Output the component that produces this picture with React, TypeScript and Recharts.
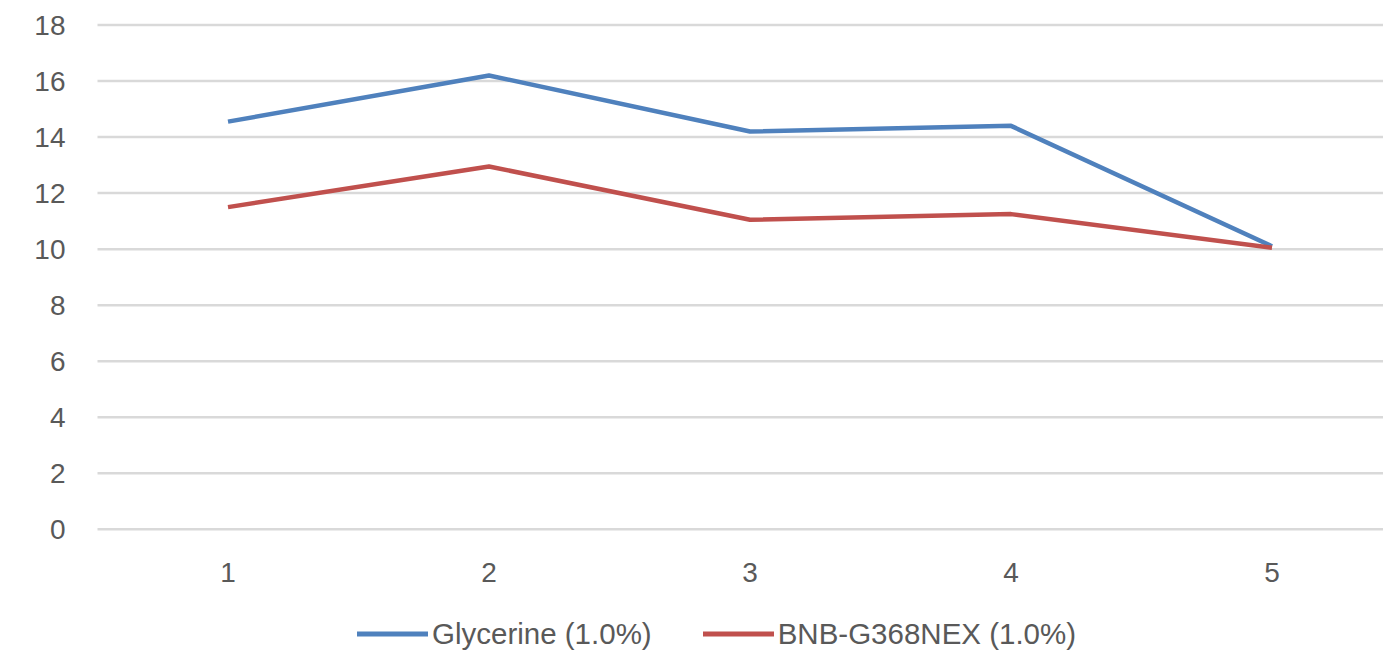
import { LineChart, Line, XAxis, YAxis, CartesianGrid, Legend } from "recharts";

const categories = ["1", "2", "3", "4", "5"];
const glycerineValues = [14.55, 16.2, 14.2, 14.4, 10.1];
const bnbValues = [11.5, 12.95, 11.05, 11.25, 10.05];
const yTicks = [0, 2, 4, 6, 8, 10, 12, 14, 16, 18];
const seriesOrder = ["Glycerine (1.0%)", "BNB-G368NEX (1.0%)"];

const data = categories.map((cat, i) => ({
  cat,
  glycerine: glycerineValues[i],
  bnb: bnbValues[i],
}));

const TEXT_COLOR = "#595959";

// Excel-like legend: long plain line swatch followed by the label
function renderLegend(props: any) {
  const payload = [...(props.payload || [])].sort(
    (a: any, b: any) => seriesOrder.indexOf(a.value) - seriesOrder.indexOf(b.value)
  );
  return (
    <div style={{ display: "flex", alignItems: "center", height: 44, paddingLeft: 357, boxSizing: "border-box" }}>
      {payload.map((entry: any) => (
        <div key={entry.value} style={{ display: "flex", alignItems: "center", marginRight: 51 }}>
          <svg width={71} height={8}>
            <line x1={0} y1={4} x2={71} y2={4} stroke={entry.color} strokeWidth={5} />
          </svg>
          <span style={{ marginLeft: 4, fontSize: 29.5, color: TEXT_COLOR, whiteSpace: "nowrap" }}>{entry.value}</span>
        </div>
      ))}
    </div>
  );
}

export default function App() {
  return (
    <div
      style={{
        position: "absolute",
        left: 0,
        top: 0,
        width: 1383,
        height: 656,
        overflow: "hidden",
        background: "#fff",
        fontFamily: "'Liberation Sans', Arial, sans-serif",
      }}
    >
      <LineChart width={1420} height={656} data={data} margin={{ top: 25, right: 17.5, left: 0, bottom: 0 }}>
        <CartesianGrid vertical={false} stroke="#d9d9d9" strokeWidth={2.5} />
        <XAxis
          dataKey="cat"
          scale="point"
          padding={{ left: 130.5, right: 130.5 }}
          axisLine={false}
          tickLine={false}
          tickMargin={27}
          height={82.7}
          tick={{ fill: TEXT_COLOR, fontSize: 28 }}
        />
        <YAxis
          domain={[0, 18]}
          ticks={yTicks}
          width={97.5}
          axisLine={false}
          tickLine={false}
          tickMargin={26}
          tick={{ fill: TEXT_COLOR, fontSize: 28 }}
        />
        <Legend
          verticalAlign="bottom"
          itemSorter={null}
          content={renderLegend}
          wrapperStyle={{ left: 0, width: 1420, height: 44 }}
        />
        <Line
          dataKey="glycerine"
          name="Glycerine (1.0%)"
          stroke="#4f81bd"
          strokeWidth={4.5}
          dot={false}
          strokeLinejoin="round"
          isAnimationActive={false}
        />
        <Line
          dataKey="bnb"
          name="BNB-G368NEX (1.0%)"
          stroke="#c0504d"
          strokeWidth={4.5}
          dot={false}
          strokeLinejoin="round"
          isAnimationActive={false}
        />
      </LineChart>
    </div>
  );
}
